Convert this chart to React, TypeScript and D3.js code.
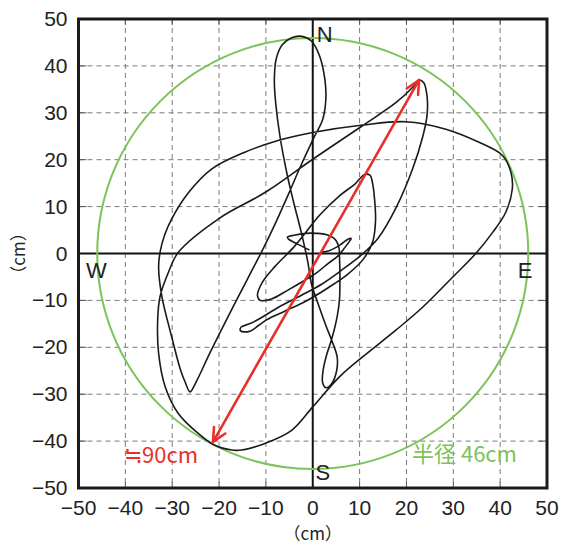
import React from 'react';
import * as d3 from 'd3';

// tick labels on both axes (cm)
const tickValues = [-50, -40, -30, -20, -10, 0, 10, 20, 30, 40, 50];
const gridValues = [-40, -30, -20, -10, 10, 20, 30, 40];

// radius of the reference circle (cm) and the peak-to-peak arrow ends
const circleRadius = 46;
const arrowFrom: [number, number] = [-21.3, -40.2];
const arrowTo: [number, number] = [22.7, 37.0];

// trajectory in pieces (x, y in cm)
const tailDome: [number, number][] = [
  [-0.7, 0.75], [-3, 1.9], [-5.1, 3.0], [-5.4, 3.5], [-4, 3.9], [-1.5, 4.3],
  [0.8, 4.3], [3, 4.0], [4.8, 3], [5.6, 1.2], [5.7, -0.5],
];
const figureEight: [number, number][] = [
  [5.8, -5], [5.7, -9.9], [5.2, -13.5], [4.0, -18.4], [3.0, -21.5], [2.2, -25],
  [2.1, -27.5], [2.8, -28.6], [4, -27.8], [5.1, -25], [5.2, -22], [4.0, -18.4],
  [2.9, -15.6], [1.1, -10.6], [-0.3, -6.4], [-1, -2.1], [-2.4, 4.3],
];
const tallLoop: [number, number][] = [
  [-4.2, 11.4], [-5.5, 17], [-7, 25], [-7.9, 32], [-8.2, 37], [-7.8, 41.5],
  [-6.5, 44.5], [-4.5, 46], [-2.3, 46.3], [-0.3, 45.3], [1.5, 42], [2.6, 37],
  [2.8, 33], [2.1, 28.5], [0.3, 24.8],
];
const vShape: [number, number][] = [
  [-2.6, 18.6], [-5.2, 12.6], [-7.9, 6.6], [-10.6, 1], [-13.8, -5.2], [-18.1, -13.5],
  [-22, -21.3], [-24.8, -27.2], [-26.2, -29.5], [-27.2, -27.5], [-28.2, -24.9],
  [-30.1, -17.8], [-32.2, -9.2], [-32.9, -3], [-32.6, 0.25], [-31.6, 4], [-30.1, 7.4],
];
const bigLoop: [number, number][] = [
  [-26.5, 13], [-21.6, 18], [-14.5, 21.6], [-7.4, 24.1], [0, 25.8], [10.7, 27.4],
  [19.9, 28.1], [28.4, 26.5], [35.5, 23.7], [40.5, 20.9], [42.3, 17.3], [42.6, 13.8],
  [41.2, 8.8], [38.4, 4.5], [34.8, 0], [29.9, -5], [23.5, -11.4], [17.8, -16.3],
  [10.7, -22], [5.7, -26.3], [0, -32.7], [-4.5, -37.7], [-10.2, -40.5], [-15.2, -41.9],
  [-17.3, -41.9], [-20.9, -40.9], [-24.4, -38.4], [-28.7, -34.1], [-31.5, -28.4],
  [-32.9, -21.3], [-33.1, -14.2], [-32.6, -9.2], [-30.8, -4], [-28.7, 0.25],
];
const diagonal: [number, number][] = [
  [-20.1, 7.4], [-10.2, 13], [0, 20.1], [10.7, 27.3], [17.8, 32.2], [21.5, 35.6],
  [22.7, 37], [23.7, 36.4], [24.4, 33.5], [24.4, 29.5], [23.5, 25], [21.3, 18],
  [17.9, 10], [13.9, 3.2], [10.4, -0.3], [6.1, -3.6], [1.8, -6.6], [-2.4, -8.9],
  [-7.4, -11.5], [-11, -13.7], [-13.5, -15], [-15.3, -15.7],
];
const hookNarrow: [number, number][] = [
  [-15.4, -16.5], [-13.5, -16.6], [-11.5, -15.3], [-9.8, -14.1], [-6, -12.3],
  [-1.7, -10.3], [3.3, -7.3], [7.5, -4.4], [10.8, -1.2], [12.8, 2.5], [13.4, 7],
  [13.2, 11.5], [12.8, 14.8], [12.2, 16.7], [11, 16.8], [9, 14.8], [5.7, 12.3],
  [1.5, 8.2], [-1.5, 4.5], [-4.2, 1.2], [-8.1, -2.8], [-10.8, -6.2], [-11.8, -9],
  [-11.2, -10], [-8.8, -9.7], [-5.3, -7.8], [-1.7, -5.7], [1.1, -3.9], [3.3, -2.1],
  [5.4, -0.5], [6.8, 1.2], [7.9, 2.7], [8.2, 3.2], [7.6, 3.1], [5.8, 1.8],
  [3.5, 0.6], [2, 0.3],
];

const track = [...tailDome, ...figureEight, ...tallLoop, ...vShape, ...bigLoop, ...diagonal, ...hookNarrow];

const W = 562, H = 546;
const plot = { left: 78.5, right: 547, top: 19, bottom: 488 };

const RED = '#e8302a';
const GREEN = '#7cc35a';
const latin = '"Liberation Sans", Arial, sans-serif';
const cjk = '"Noto Sans CJK JP", "Liberation Sans", sans-serif';

const fmt = (v: number) => (v < 0 ? '\u2212' + Math.abs(v) : String(v));

const App = () => {
  const x = d3.scaleLinear().domain([-50, 50]).range([plot.left, plot.right]);
  const y = d3.scaleLinear().domain([-50, 50]).range([plot.bottom, plot.top]);

  const line = d3.line<[number, number]>()
    .x(d => x(d[0]))
    .y(d => y(d[1]))
    .curve(d3.curveCatmullRom.alpha(0.5));

  // arrow heads
  const ax1 = x(arrowFrom[0]), ay1 = y(arrowFrom[1]);
  const ax2 = x(arrowTo[0]), ay2 = y(arrowTo[1]);
  const ang = Math.atan2(ay2 - ay1, ax2 - ax1);
  const headLen = 15, headAng = Math.PI / 7;
  const head = (tx: number, ty: number, dir: number) => {
    const p1 = [tx - headLen * Math.cos(dir - headAng), ty - headLen * Math.sin(dir - headAng)];
    const p2 = [tx - headLen * Math.cos(dir + headAng), ty - headLen * Math.sin(dir + headAng)];
    return `M${p1[0]},${p1[1]}L${tx},${ty}L${p2[0]},${p2[1]}`;
  };

  return (
    <div style={{ position: 'absolute', left: 0, top: 0 }}>
      <svg width={W} height={H} style={{ display: 'block', background: '#fff' }}>
        {/* grid */}
        <g stroke="#7a7a7a" strokeWidth={1} strokeDasharray="5,4">
          {gridValues.map(v => (
            <line key={'gx' + v} x1={x(v)} x2={x(v)} y1={plot.top} y2={plot.bottom} />
          ))}
          {gridValues.map(v => (
            <line key={'gy' + v} x1={plot.left} x2={plot.right} y1={y(v)} y2={y(v)} />
          ))}
        </g>
        {/* inner ticks */}
        <g stroke="#555" strokeWidth={1}>
          {gridValues.map(v => (
            <g key={'t' + v}>
              <line x1={plot.left} x2={plot.left + 8} y1={y(v)} y2={y(v)} />
              <line x1={plot.right - 8} x2={plot.right} y1={y(v)} y2={y(v)} />
              <line x1={x(v)} x2={x(v)} y1={plot.bottom - 6} y2={plot.bottom} />
              <line x1={x(v)} x2={x(v)} y1={plot.top} y2={plot.top + 6} />
            </g>
          ))}
        </g>
        {/* zero axes */}
        <line x1={plot.left} x2={plot.right} y1={y(0)} y2={y(0)} stroke="#111" strokeWidth={2} />
        <line x1={x(0)} x2={x(0)} y1={plot.top} y2={plot.bottom} stroke="#111" strokeWidth={2} />

        {/* reference circle */}
        <circle cx={x(0)} cy={y(0)} r={x(circleRadius) - x(0)} fill="none" stroke={GREEN} strokeWidth={2} />

        {/* trajectory */}
        <path d={line(track) || ''} fill="none" stroke="#1a1a1a" strokeWidth={1.6} strokeLinejoin="round" />

        {/* red arrow */}
        <g stroke={RED} strokeWidth={2.6} fill="none" strokeLinecap="round" strokeLinejoin="round">
          <line x1={ax1} y1={ay1} x2={ax2} y2={ay2} />
          <path d={head(ax2, ay2, ang)} />
          <path d={head(ax1, ay1, ang + Math.PI)} />
        </g>

        {/* border */}
        <rect x={plot.left} y={plot.top} width={plot.right - plot.left} height={plot.bottom - plot.top}
          fill="none" stroke="#1a1a1a" strokeWidth={3} />

        {/* tick labels */}
        <g fontFamily={latin} fontSize={21} fill="#222">
          {tickValues.map(v => (
            <text key={'ly' + v} x={plot.left - 11} y={y(v) + 7} textAnchor="end">{fmt(v)}</text>
          ))}
          {tickValues.map(v => (
            <text key={'lx' + v} x={x(v)} y={plot.bottom + 27} textAnchor="middle">{fmt(v)}</text>
          ))}
        </g>

        {/* axis titles */}
        <text x={x(0)} y={540} textAnchor="middle" fontFamily={cjk} fontSize={17} fill="#222">（cm）</text>
        <text transform={`translate(25,${y(0)}) rotate(-90)`} textAnchor="middle" fontFamily={cjk} fontSize={17} fill="#222">（cm）</text>

        {/* compass */}
        <g fontFamily={latin} fontSize={22} fill="#222" textAnchor="middle">
          <text x={x(0) + 12} y={y(50) + 23}>N</text>
          <text x={x(0) + 10} y={y(-50) - 8}>S</text>
          <text x={x(-50) + 18} y={y(0) + 24}>W</text>
          <text x={x(50) - 22} y={y(0) + 24}>E</text>
        </g>

        {/* annotations */}
        <text x={124} y={463} fontFamily={cjk} fontSize={22} fill={RED}>≒90cm</text>
        <text x={412} y={462} fontFamily={cjk} fontSize={22} fill={GREEN}>半径 46cm</text>
      </svg>
    </div>
  );
};

export default App;
